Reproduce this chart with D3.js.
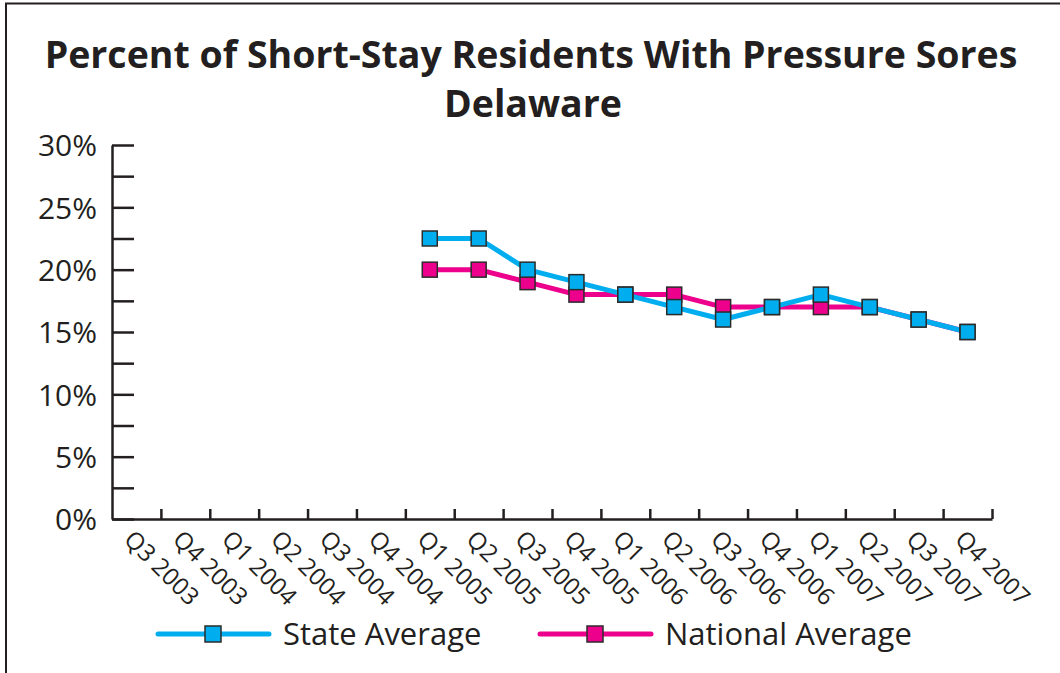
<!DOCTYPE html>
<html>
  <head>
    <meta charset="utf-8">
    <title>Pressure Sores - Delaware</title>
    <script type="text/javascript" src="https://cdn.jsdelivr.net/npm/d3@7"></script>
    <style>
    body {
      margin: 0;
      background: #fff;
    }
    text {
      fill: #231f20;
      font-family: "Open Sans", "Noto Sans", sans-serif;
    }
    .axis path, .axis line {
      stroke: #231f20;
      stroke-width: 2.5px;
    }
    .line {
      fill: none;
      stroke-width: 5px;
      stroke-linejoin: round;
    }
    .marker {
      stroke: #2b2b2b;
      stroke-width: 1.5px;
    }
    </style>
  </head>
  <body>
    <div id="chart"></div>
    <script type="text/javascript">

      // data
      var quarters = ['Q3 2003','Q4 2003','Q1 2004','Q2 2004','Q3 2004','Q4 2004',
                      'Q1 2005','Q2 2005','Q3 2005','Q4 2005','Q1 2006','Q2 2006',
                      'Q3 2006','Q4 2006','Q1 2007','Q2 2007','Q3 2007','Q4 2007'];
      var stateAvg    = [null,null,null,null,null,null,
                         22.5,22.5,20,19,18,17,16,17,18,17,16,15];
      var nationalAvg = [null,null,null,null,null,null,
                         20,20,19,18,18,18,17,17,17,17,16,15];
      var yTicks = [0,5,10,15,20,25,30];
      var seriesNames = ['State Average','National Average'];
      var colors = ['#00aeef','#ec008c'];

      var width = 1060, height = 673;

      var svg = d3.select('#chart')
        .append('svg')
        .attr('width', width)
        .attr('height', height);

      // frame (left + top only)
      svg.append('path')
        .attr('d', 'M6,673 V3.5 H1060')
        .attr('fill', 'none')
        .attr('stroke', '#231f20')
        .attr('stroke-width', 2);

      // title
      svg.append('text')
        .attr('x', 531).attr('y', 68)
        .attr('text-anchor', 'middle')
        .style('font-size', '37.5px')
        .style('font-weight', 'bold')
        .text('Percent of Short-Stay Residents With Pressure Sores');
      svg.append('text')
        .attr('x', 533).attr('y', 117)
        .attr('text-anchor', 'middle')
        .style('font-size', '37.5px')
        .style('font-weight', 'bold')
        .text('Delaware');

      // scales
      var x = d3.scaleBand().domain(quarters).range([112, 992]).padding(0);
      var xEdge = d3.scaleLinear().domain([0, quarters.length]).range([112, 992]);
      var y = d3.scaleLinear().domain([0, 30]).range([519, 145]);

      // y axis
      var yAxis = svg.append('g')
        .attr('class', 'axis')
        .attr('transform', 'translate(112,0)')
        .call(d3.axisLeft(y)
          .tickValues(d3.range(0, 30.1, 2.5))
          .tickSizeInner(-22)
          .tickSizeOuter(0)
          .tickPadding(15)
          .tickFormat(function(d){ return yTicks.indexOf(d) >= 0 ? d + '%' : ''; }));
      yAxis.selectAll('text')
        .style('font-size', '30px')
        .attr('fill', '#231f20')
        .attr('dy', '0.36em');

      // x axis
      var xAxis = svg.append('g')
        .attr('class', 'axis')
        .attr('transform', 'translate(0,519)')
        .call(d3.axisBottom(xEdge)
          .tickValues(d3.range(1, quarters.length + 1))
          .tickSizeInner(-10)
          .tickSizeOuter(0)
          .tickFormat(''));

      svg.append('g')
        .selectAll('text')
        .data(quarters)
        .enter()
        .append('text')
        .attr('transform', function(d){
          return 'translate(' + (x(d) + x.bandwidth()/2 - 1) + ',528) rotate(45)';
        })
        .attr('dy', '0.75em')
        .style('font-size', '24px')
        .text(function(d){ return d; });

      // lines + markers, national under state
      var series = [
        {name: seriesNames[1], values: nationalAvg, color: colors[1]},
        {name: seriesNames[0], values: stateAvg, color: colors[0]}
      ];

      var line = d3.line()
        .defined(function(d){ return d.v != null; })
        .x(function(d){ return x(d.q) + x.bandwidth()/2; })
        .y(function(d){ return y(d.v); });

      var ms = 15;
      series.forEach(function(s){
        var pts = quarters.map(function(q, i){ return {q: q, v: s.values[i]}; });
        svg.append('path')
          .datum(pts)
          .attr('class', 'line')
          .style('stroke', s.color)
          .attr('d', line);
      });
      series.forEach(function(s){
        var pts = quarters.map(function(q, i){ return {q: q, v: s.values[i]}; })
          .filter(function(d){ return d.v != null; });
        svg.append('g')
          .selectAll('rect')
          .data(pts)
          .enter()
          .append('rect')
          .attr('class', 'marker')
          .attr('x', function(d){ return x(d.q) + x.bandwidth()/2 - ms/2; })
          .attr('y', function(d){ return y(d.v) - ms/2; })
          .attr('width', ms)
          .attr('height', ms)
          .style('fill', s.color);
      });

      // legend
      var legendX = [158, 540];
      var legend = svg.selectAll('.legend')
        .data(seriesNames)
        .enter()
        .append('g')
        .attr('class', 'legend')
        .attr('transform', function(d, i){ return 'translate(' + legendX[i] + ',634)'; });
      legend.append('line')
        .attr('x1', 0).attr('x2', 111)
        .attr('stroke', function(d, i){ return colors[i]; })
        .attr('stroke-width', 5)
        .attr('stroke-linecap', 'round');
      legend.append('rect')
        .attr('class', 'marker')
        .attr('x', 55 - 8).attr('y', -8)
        .attr('width', 16).attr('height', 16)
        .style('fill', function(d, i){ return colors[i]; });
      legend.append('text')
        .attr('x', 125)
        .attr('y', 11)
        .style('font-size', '31px')
        .text(function(d){ return d; });
    </script>
  </body>
</html>
